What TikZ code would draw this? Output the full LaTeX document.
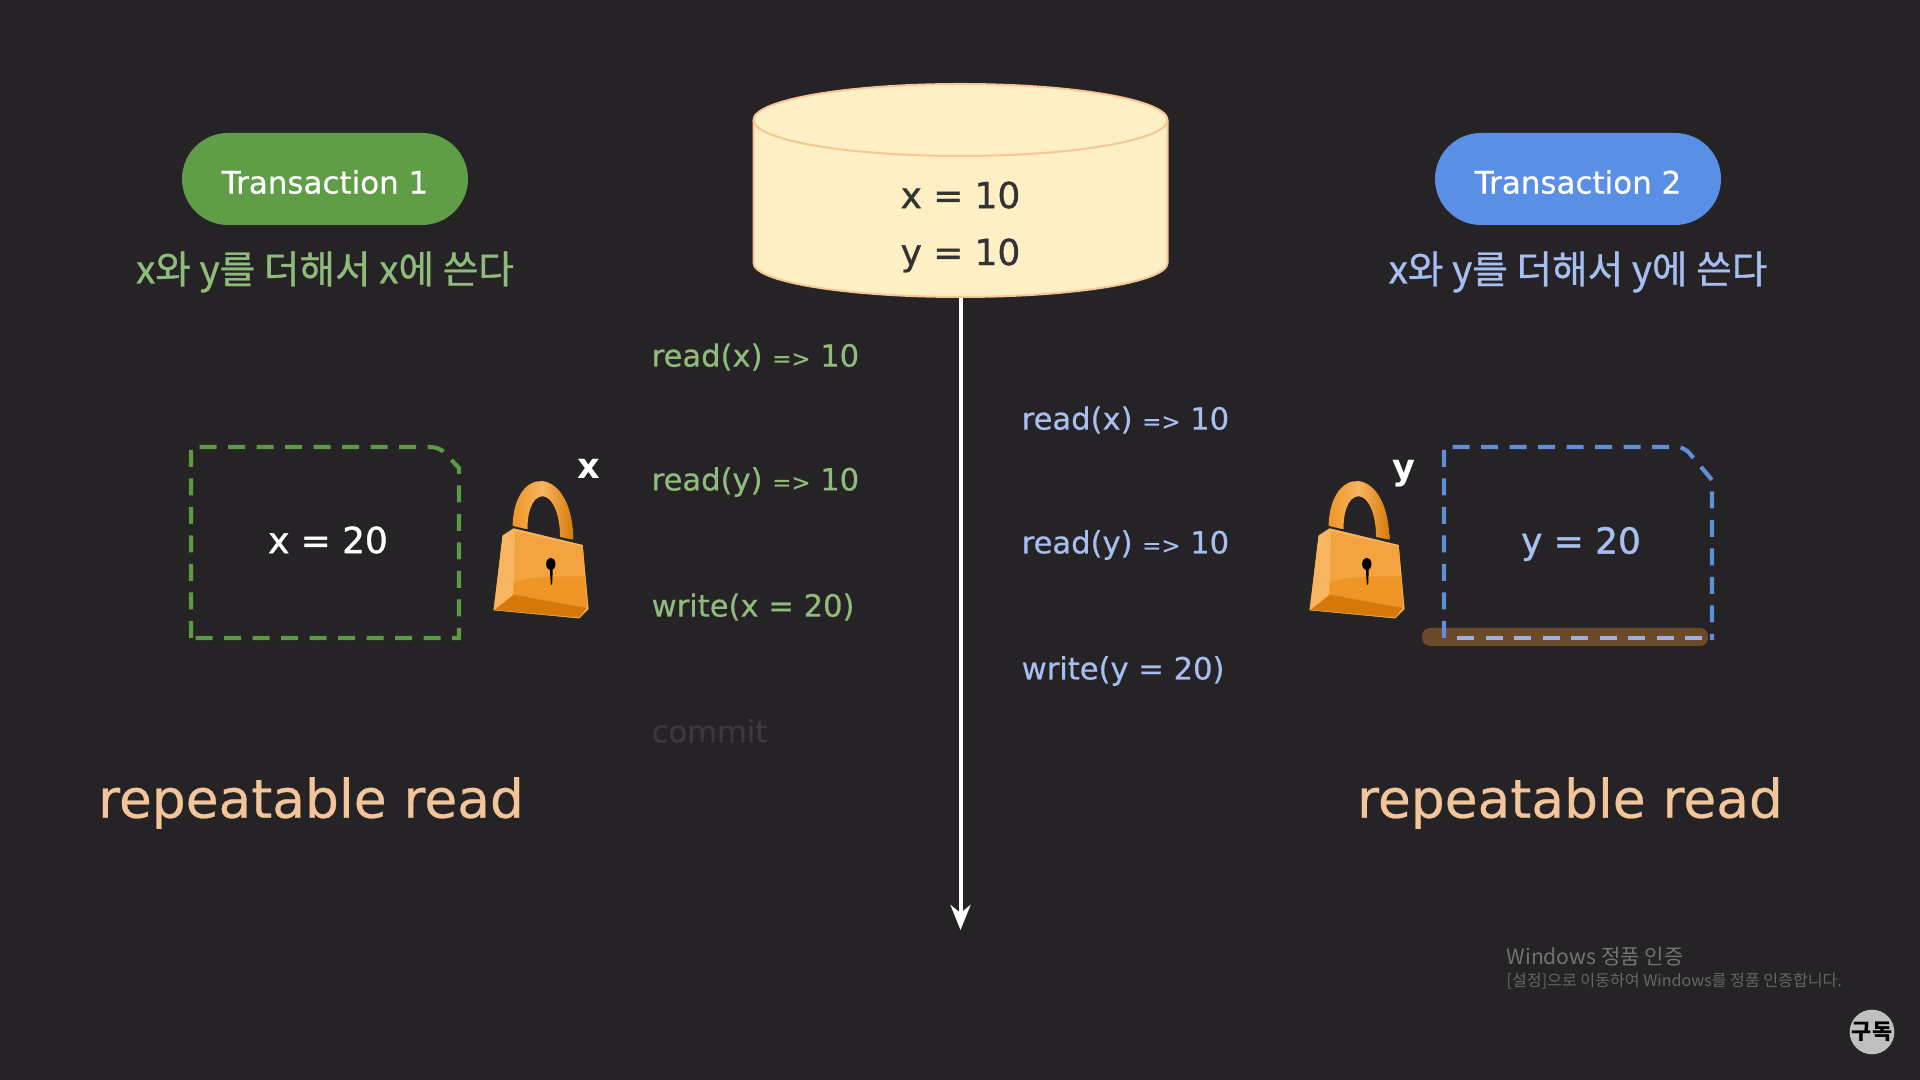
\documentclass[tikz,border=0pt]{standalone}
\usepackage{fontspec}
\setmainfont{DejaVu Sans}
\newfontfamily\krfont{Noto Sans CJK KR}
\usetikzlibrary{arrows.meta,shapes.misc}
\definecolor{bgdark}{HTML}{252326}
\definecolor{txgreen}{HTML}{5F9E47}
\definecolor{txblue}{HTML}{5A8FE6}
\definecolor{opgreen}{HTML}{8FBC7A}
\definecolor{opblue}{HTML}{A6BEF0}
\definecolor{dashgreen}{HTML}{5C9A45}
\definecolor{dashblue}{HTML}{5F8FD8}
\definecolor{peach}{HTML}{F3C59B}
\definecolor{dbfill}{HTML}{FFEFC4}
\definecolor{dbline}{HTML}{F8C695}
\definecolor{lockdark}{HTML}{D57A0A}
\definecolor{lockmid}{HTML}{EE9526}
\definecolor{locklight}{HTML}{F8B45E}
\definecolor{markbrown}{HTML}{6B4A2A}
\def\opto{{\fontsize{6.5}{8}\selectfont =>}}
\def\padlock(#1,#2){
	\begin{scope}[shift={(#1,#2)},x=0.003333cm,y=-0.003333cm]
		\fill[black!85] (150,330) .. controls (148,118) and (342,118) .. (346,365) -- cycle;
		\fill[left color=lockmid,right color=lockdark,middle color=locklight] (158,325) .. controls (158,130) and (338,132) .. (341,360) -- (301,352) .. controls (298,193) and (202,193) .. (203,328) -- cycle;
		\fill[bgdark] (205,330) .. controls (205,198) and (296,198) .. (299,354) -- cycle;
		\fill[locklight,draw=black!85,line width=0.2mm] (125,345) -- (160,322) -- (372,373) -- (390,570) -- (360,600) -- (97,575) -- cycle;
		\fill[lockmid!55!locklight] (165,335) -- (368,380) -- (382,565) -- (160,525) -- cycle;
		\fill[lockmid] (160,490) .. controls (200,470) and (300,470) .. (376,470) -- (382,565) -- (160,525) -- cycle;
		\fill[lockdark] (160,525) -- (382,565) -- (358,594) -- (103,571) -- cycle;
		\fill[locklight] (128,350) -- (165,335) -- (160,525) -- (103,571) -- cycle;
		\fill[black] (273,433) ellipse (14 and 19);
		\fill[black] (270,445) -- (279,445) -- (277,495) -- (273,495) -- cycle;
	\end{scope}
}
\tikzset{
	txpill/.style={rounded rectangle,minimum width=2.86cm,minimum height=0.92cm,inner sep=0pt},
	txname/.style={text=white,font=\fontsize{8.8}{11}\selectfont\addfontfeature{FakeBold=0.6}},
	krnote/.style={font=\krfont\fontsize{11}{12}\selectfont\addfontfeature{FakeBold=0.8}},
	optext/.style={anchor=west,inner sep=0pt,font=\fontsize{8.7}{10}\selectfont\addfontfeature{FakeBold=0.5}},
	isolevel/.style={text=peach,font=\fontsize{15.2}{20}\selectfont\addfontfeature{FakeBold=0.5}},
	boxvalue/.style={font=\fontsize{10.2}{13}\selectfont\addfontfeature{FakeBold=1.2}},
	lockname/.style={text=white,font=\fontsize{10}{13}\selectfont\bfseries},
	dashedge/.style={line width=0.042cm,dash pattern=on 0.17cm off 0.115cm}
}
\begin{document}
\begin{tikzpicture}
		%%%%% START %%%%%
		\useasboundingbox (0,0) rectangle (19.2,10.8);
		\fill[bgdark] (0,0) rectangle (19.2,10.8);
		
		% database
		\draw[line width=0.2mm,draw=dbline,fill=dbfill] (7.535,9.6) arc (180:0:2.07 and 0.36) -- (11.675,8.17) arc (0:-180:2.07 and 0.34) -- cycle;
		\draw[line width=0.2mm,draw=dbline] (7.535,9.6) arc (180:360:2.07 and 0.36);
		\node[minimum width=4.14cm,minimum height=2.14cm,inner sep=0pt] (db) at (9.605,8.9) {};
		\node[align=center,text=black!80,font=\fontsize{10.2}{16.2}\selectfont\addfontfeature{FakeBold=1}] (dbvalues) at (9.605,8.53) {x = 10\\y = 10};
		\coordinate (timeend) at (9.605,1.5);
		\draw[line width=0.04cm,white,-{Stealth[length=0.25cm,width=0.2cm,inset=0.08cm]}] (db.south) -- (timeend);
		
		% transactions
		\node[txpill,fill=txgreen] (tx1) at (3.25,9.01) {};
		\node[txpill,fill=txblue] (tx2) at (15.78,9.01) {};
		\node[txname] (tx1name) at (3.25,8.98) {Transaction 1};
		\node[txname] (tx2name) at (15.78,8.98) {Transaction 2};
		\node[krnote,text=opgreen] (tx1note) at (3.25,8.08) {x와 y를 더해서 x에 쓴다};
		\node[krnote,text=opblue] (tx2note) at (15.78,8.08) {x와 y를 더해서 y에 쓴다};
		
		% operations
		\node[optext,text=opgreen] (readx1) at (6.51,7.23) {read(x) \opto{} 10};
		\node[optext,text=opgreen] (ready1) at (6.51,5.98) {read(y) \opto{} 10};
		\node[optext,text=opgreen] (writex1) at (6.51,4.73) {write(x = 20)};
		\node[optext,text=bgdark!90!white] (commit1) at (6.51,3.49) {commit};
		\node[optext,text=opblue] (readx2) at (10.21,6.6) {read(x) \opto{} 10};
		\node[optext,text=opblue] (ready2) at (10.21,5.35) {read(y) \opto{} 10};
		\node[optext,text=opblue] (writey2) at (10.21,4.09) {write(y = 20)};
		
		% green box
		\draw[dashedge,dashgreen] (1.91,4.42) -- (1.91,6.33) -- (4.3,6.33) [rounded corners=0.06cm] -- (4.4,6.32) [sharp corners] -- (4.59,6.12) -- (4.59,4.42) -- cycle;
		\node[boxvalue,text=white] (xvalue) at (3.28,5.4) {x = 20};
		
		% blue box
		\fill[rounded corners=0.08cm,fill=markbrown] (14.22,4.34) rectangle (17.08,4.52);
		\draw[dashedge,dashblue] (14.44,4.42) -- (14.44,6.33) -- (16.73,6.33) [rounded corners=0.06cm] -- (16.85,6.32) [sharp corners] -- (17.12,6.0) -- (17.12,4.4);
		\draw[dashedge,opblue!80!gray] (14.57,4.42) -- (17.02,4.42);
		\node[boxvalue,text=opblue] (yvalue) at (15.81,5.36) {y = 20};
		
		% locks
		\padlock(4.6,6.6)
		\padlock(12.76,6.6)
		\node[lockname] (xlockname) at (5.89,6.11) {x};
		\node[lockname] (ylockname) at (14.04,6.06) {y};
		
		% isolation level
		\node[isolevel] (level1) at (3.11,2.77) {repeatable read};
		\node[isolevel] (level2) at (15.7,2.77) {repeatable read};
		
		% watermark
		\node[anchor=west,inner sep=0pt,text=black!55,font=\krfont\fontsize{6}{7}\selectfont] (wm1) at (15.06,1.23) {Windows 정품 인증};
		\node[anchor=west,inner sep=0pt,text=black!60,font=\krfont\fontsize{4.58}{6}\selectfont] (wm2) at (15.06,0.99) {[설정]으로 이동하여 Windows를 정품 인증합니다.};
		\node[circle,minimum size=0.44cm,inner sep=0pt,fill=black!25,text=black,font=\krfont\bfseries\fontsize{6.2}{7}\selectfont] (subscribe) at (18.72,0.48) {구독};
		%%%%% END %%%%%
	\end{tikzpicture}
\end{document}
